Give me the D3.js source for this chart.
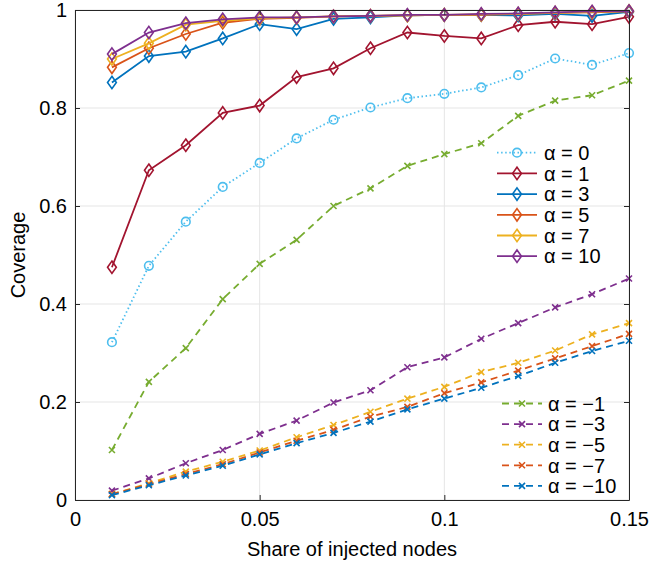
<!DOCTYPE html>
<html><head><meta charset="utf-8">
<script src="https://cdn.jsdelivr.net/npm/d3@7"></script>
<style>body{margin:0;background:#fff;} svg{display:block;font-family:"Liberation Sans",Arial,sans-serif;}</style>
</head><body><svg id="c" width="650" height="561"></svg>
<script>
const xs = [0.01,0.02,0.03,0.04,0.05,0.06,0.07,0.08,0.09,0.10,0.11,0.12,0.13,0.14,0.15];
const a0  = [0.322,0.478,0.568,0.639,0.688,0.738,0.776,0.801,0.820,0.829,0.842,0.867,0.901,0.888,0.912];
const a1  = [0.475,0.673,0.724,0.790,0.805,0.863,0.881,0.922,0.954,0.947,0.942,0.969,0.976,0.971,0.986];
const a3  = [0.852,0.906,0.915,0.942,0.971,0.961,0.982,0.985,0.989,0.990,0.990,0.989,0.992,0.988,0.996];
const a5  = [0.883,0.922,0.951,0.974,0.982,0.984,0.987,0.988,0.989,0.990,0.990,0.992,0.994,0.995,0.997];
const a7  = [0.900,0.932,0.970,0.978,0.983,0.985,0.987,0.988,0.989,0.990,0.991,0.992,0.994,0.996,0.998];
const a10 = [0.910,0.954,0.973,0.981,0.985,0.985,0.987,0.988,0.990,0.990,0.992,0.993,0.995,0.997,0.998];
const am1  = [0.102,0.241,0.310,0.410,0.482,0.531,0.600,0.636,0.682,0.706,0.728,0.784,0.815,0.826,0.856];
const am3  = [0.019,0.044,0.075,0.102,0.135,0.162,0.199,0.224,0.271,0.291,0.329,0.361,0.393,0.420,0.452];
const am5  = [0.012,0.034,0.058,0.078,0.101,0.128,0.153,0.180,0.207,0.231,0.261,0.280,0.305,0.338,0.361];
const am7  = [0.012,0.032,0.053,0.073,0.097,0.121,0.143,0.170,0.190,0.218,0.240,0.264,0.289,0.314,0.339];
const am10 = [0.010,0.030,0.050,0.070,0.093,0.116,0.137,0.160,0.185,0.207,0.229,0.253,0.280,0.304,0.325];
const xTicks = [0,0.05,0.1,0.15];
const xTickLabels = ["0","0.05","0.1","0.15"];
const yTicks = [0,0.2,0.4,0.6,0.8,1];
const yTickLabels = ["0","0.2","0.4","0.6","0.8","1"];

const pos = [
  {label:"α = 0", v:a0, color:"#4DBEEE", dash:"1.5,2.6", marker:"circle"},
  {label:"α = 1", v:a1, color:"#A2142F", dash:null, marker:"diamond"},
  {label:"α = 3", v:a3, color:"#0072BD", dash:null, marker:"diamond"},
  {label:"α = 5", v:a5, color:"#D95319", dash:null, marker:"diamond"},
  {label:"α = 7", v:a7, color:"#EDB120", dash:null, marker:"diamond"},
  {label:"α = 10", v:a10, color:"#7E2F8E", dash:null, marker:"diamond"}
];
const neg = [
  {label:"α = −1", v:am1, color:"#77AC30", dash:"7,5", marker:"x"},
  {label:"α = −3", v:am3, color:"#7E2F8E", dash:"7,5", marker:"x"},
  {label:"α = −5", v:am5, color:"#EDB120", dash:"7,5", marker:"x"},
  {label:"α = −7", v:am7, color:"#D95319", dash:"7,5", marker:"x"},
  {label:"α = −10", v:am10, color:"#0072BD", dash:"7,5", marker:"x"}
];

const FS = 20;
const L=75, R=629, T=10, B=500;
const x = d3.scaleLinear().domain([0,0.15]).range([L,R]);
const y = d3.scaleLinear().domain([0,1]).range([B,T]);
const svg = d3.select("#c");

// grid
const g = svg.append("g");
g.selectAll(".gx").data(xTicks).join("line").attr("x1",d=>x(d)).attr("x2",d=>x(d)).attr("y1",T).attr("y2",B).attr("stroke","#e5e5e5").attr("stroke-width",1);
g.selectAll(".gy").data(yTicks).join("line").attr("y1",d=>y(d)).attr("y2",d=>y(d)).attr("x1",L).attr("x2",R).attr("stroke","#e5e5e5").attr("stroke-width",1);

function marker(sel, type, color){
  if(type==="circle"){
    sel.append("circle").attr("r",4.3).attr("fill","none").attr("stroke",color).attr("stroke-width",1.6);
  } else if(type==="diamond"){
    sel.append("path").attr("d","M0,-6.2L4.4,0L0,6.2L-4.4,0Z").attr("fill","none").attr("stroke",color).attr("stroke-width",1.6);
  } else {
    sel.append("path").attr("d","M-3,-3L3,3M-3,3L3,-3").attr("fill","none").attr("stroke",color).attr("stroke-width",1.6);
  }
}

const line = d3.line().x((d,i)=>x(xs[i])).y(d=>y(d));
const all = neg.concat(pos);
all.forEach(s=>{
  svg.append("path").datum(s.v).attr("d",line).attr("fill","none").attr("stroke",s.color).attr("stroke-width",1.8)
    .attr("stroke-dasharray",s.dash);
  s.v.forEach((v,i)=>{
    const m = svg.append("g").attr("transform",`translate(${x(xs[i])},${y(v)})`);
    marker(m, s.marker, s.color);
  });
});

// axes
const ax = d3.axisBottom(x).tickValues(xTicks).tickFormat((d,i)=>xTickLabels[i]).tickSizeInner(-5).tickSizeOuter(0).tickPadding(12);
const ay = d3.axisLeft(y).tickValues(yTicks).tickFormat((d,i)=>yTickLabels[i]).tickSizeInner(-5).tickSizeOuter(0).tickPadding(8);
const axTop = d3.axisTop(x).tickValues(xTicks).tickFormat("").tickSizeInner(-5).tickSizeOuter(0);
const ayR = d3.axisRight(y).tickValues(yTicks).tickFormat("").tickSizeInner(-5).tickSizeOuter(0);
function style(gs){ gs.selectAll("path,line").attr("stroke","#262626").attr("stroke-width",1); gs.selectAll("text").attr("fill","#000").attr("font-size",FS).attr("font-family","Liberation Sans, Arial, sans-serif"); }
svg.append("g").attr("transform",`translate(0,${B})`).call(ax).call(style);
svg.append("g").attr("transform",`translate(${L},0)`).call(ay).call(style);
svg.append("g").attr("transform",`translate(0,${T})`).call(axTop).call(style);
svg.append("g").attr("transform",`translate(${R},0)`).call(ayR).call(style);

svg.append("text").attr("x",(L+R)/2).attr("y",556).attr("text-anchor","middle").attr("font-size",FS).text("Share of injected nodes");
svg.append("text").attr("transform",`translate(25,${(T+B)/2}) rotate(-90)`).attr("text-anchor","middle").attr("font-size",FS).text("Coverage");

// legends
function legend(items, x0, y0, dy, tx){
  items.forEach((s,i)=>{
    const yy = y0 + i*dy;
    svg.append("line").attr("x1",x0).attr("x2",x0+40).attr("y1",yy).attr("y2",yy).attr("stroke",s.color).attr("stroke-width",1.8).attr("stroke-dasharray",s.dash);
    const m = svg.append("g").attr("transform",`translate(${x0+20},${yy})`);
    marker(m, s.marker, s.color);
    svg.append("text").attr("x",x0+tx).attr("y",yy).attr("dy","0.36em").attr("font-size",FS).text(s.label);
  });
}
legend(pos, 497, 152.7, 20.7, 47);
legend(neg, 502, 403.5, 20.6, 46);
</script></body></html>
